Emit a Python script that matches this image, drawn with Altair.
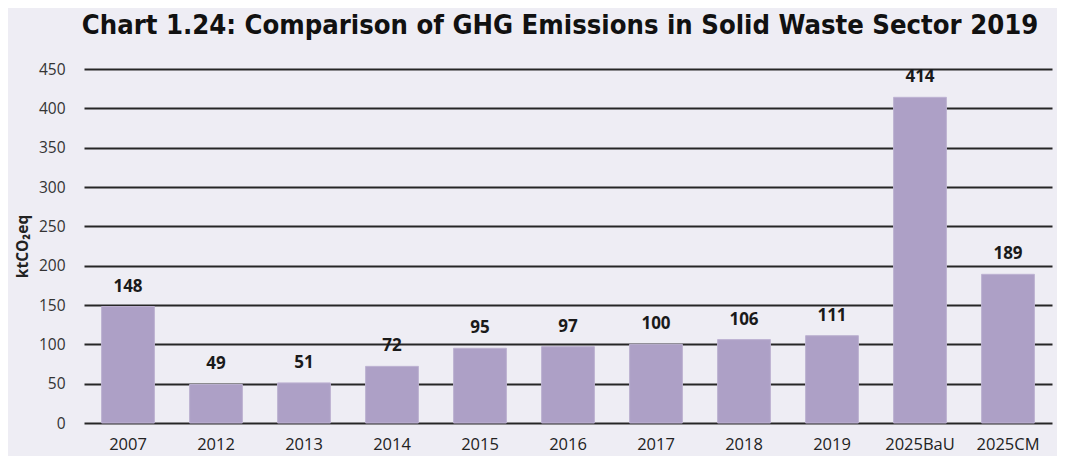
import altair as alt
import pandas as pd

categories = ["2007", "2012", "2013", "2014", "2015", "2016", "2017", "2018", "2019", "2025BaU", "2025CM"]
values = [148, 49, 51, 72, 95, 97, 100, 106, 111, 414, 189]

df = pd.DataFrame({"cat": categories, "val": values})

base = alt.Chart(df).encode(
    x=alt.X("cat:N", sort=categories, title=None,
            scale=alt.Scale(paddingInner=0.4, paddingOuter=0.2),
            axis=alt.Axis(labelAngle=0, labelFont="Open Sans", labelFontSize=16.5,
                          labelColor="#222222", ticks=False, domain=False, labelPadding=13)),
    y=alt.Y("val:Q", title="ktCO₂eq",
            scale=alt.Scale(domain=[0, 450]),
            axis=alt.Axis(values=list(range(0, 451, 50)), labelFont="Open Sans", labelFontSize=15.5,
                          labelColor="#333333", ticks=False, domain=False, labelPadding=19,
                          grid=True, gridColor="#262626", gridWidth=2,
                          titleFont="Open Sans", titleFontSize=15.5, titleFontWeight="bold",
                          titleColor="#222222", titlePadding=8)),
)

bars = base.mark_bar(color="#ada0c6", stroke="#bdb2d2", strokeWidth=1)
labels = base.mark_text(dy=-20, font="Open Sans", fontSize=17, fontWeight="bold", color="#1a1a1a").encode(
    text="val:Q")

chart = (bars + labels).properties(
    width=968, height=354,
    background="#eeedf4",
    autosize=alt.AutoSizeParams(type="none"),
    padding={"left": 76, "top": 61, "right": 5, "bottom": 33},
    title=alt.TitleParams("Chart 1.24: Comparison of GHG Emissions in Solid Waste Sector 2019",
                          font="DejaVu Sans Condensed", fontSize=27.2, fontWeight="bold",
                          color="#111111", anchor="middle", dx=-8, offset=22),
).configure_view(stroke=None)

chart.save("out.html", embed_options={"renderer": "svg", "actions": False})
